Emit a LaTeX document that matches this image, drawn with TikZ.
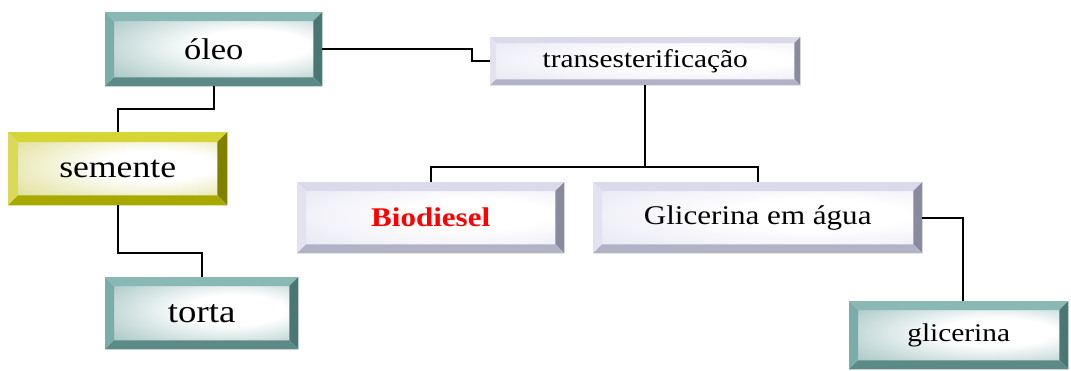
\documentclass[tikz,border=0pt]{standalone}
\usepackage{fontspec}
\setmainfont[FakeStretch=1.15]{Liberation Serif}
\usetikzlibrary{backgrounds,calc}

% bevel palettes
\definecolor{tealtop}{HTML}{8AB8B5}
\definecolor{tealleft}{HTML}{7AADA9}
\definecolor{tealright}{HTML}{4A7673}
\definecolor{tealbottom}{HTML}{5C8A87}
\definecolor{tealface}{HTML}{98BCBA}
\definecolor{yeltop}{HTML}{D5D535}
\definecolor{yelleft}{HTML}{DADA5A}
\definecolor{yelright}{HTML}{808000}
\definecolor{yelbottom}{HTML}{A8A800}
\definecolor{yelface}{HTML}{DADA86}
\definecolor{lavtop}{HTML}{DADAEC}
\definecolor{lavleft}{HTML}{E2E2F2}
\definecolor{lavright}{HTML}{8A8A9E}
\definecolor{lavbottom}{HTML}{B2B2C6}
\definecolor{lavface}{HTML}{E4E4F2}
\colorlet{facetint}{tealface}

\pgfdeclareradialshading[facetint]{bevelface}{\pgfpoint{12bp}{4bp}}{%
  color(0bp)=(white); color(14bp)=(white); color(46bp)=(facetint); color(70bp)=(facetint)}

% beveled frame behind a named node: #1 name, #2 bevel width,
% #3..#6 top/left/right/bottom colours, #7 face tint
\newcommand\bevelbox[7]{%
  \begin{pgfonlayer}{background}
    \colorlet{facetint}{#7}
    \path[shading=bevelface]
      ([shift={(#2,#2)}]#1.north west) rectangle ([shift={(-#2,-#2)}]#1.south east);
    \fill[#3] (#1.north west) -- (#1.north east) -- ([shift={(-#2,#2)}]#1.north east)
      -- ([shift={(#2,#2)}]#1.north west) -- cycle;
    \fill[#4] (#1.north west) -- ([shift={(#2,#2)}]#1.north west)
      -- ([shift={(#2,-#2)}]#1.south west) -- (#1.south west) -- cycle;
    \fill[#5] (#1.north east) -- (#1.south east) -- ([shift={(-#2,-#2)}]#1.south east)
      -- ([shift={(-#2,#2)}]#1.north east) -- cycle;
    \fill[#6] (#1.south west) -- ([shift={(#2,-#2)}]#1.south west)
      -- ([shift={(-#2,-#2)}]#1.south east) -- (#1.south east) -- cycle;
  \end{pgfonlayer}}

\tikzset{
  boxbase/.style={rectangle, inner sep=0pt, anchor=north west, text=black},
  conn/.style={line width=1.9pt, black},
}

\begin{document}
\begin{tikzpicture}[x=1pt, y=-1pt]
\useasboundingbox (0,0) rectangle (1071,370);

\node[boxbase, minimum width=217pt, minimum height=74pt, font=\fontsize{30}{36}\selectfont]
  (oleo) at (105,12) {óleo};
\node[boxbase, minimum width=310pt, minimum height=48pt, font=\fontsize{25.5}{30}\selectfont]
  (trans) at (490,37) {transesterificação};
\node[boxbase, minimum width=219pt, minimum height=73pt, font=\fontsize{31}{36}\selectfont]
  (semente) at (8,132) {semente};
\node[boxbase, minimum width=267pt, minimum height=71pt, text={rgb,255:red,255;green,0;blue,0},
  font=\fontsize{27}{32}\selectfont\bfseries]
  (bio) at (297,182) {Biodiesel};
\node[boxbase, minimum width=329pt, minimum height=71pt, font=\fontsize{27}{32}\selectfont]
  (glic) at (593,182) {Glicerina em água};
\node[boxbase, minimum width=193pt, minimum height=72pt, font=\fontsize{32}{38}\selectfont]
  (torta) at (105,277) {torta};
\node[boxbase, minimum width=219pt, minimum height=68pt, font=\fontsize{25.5}{30}\selectfont]
  (glicerina) at (849,301) {glicerina};

\bevelbox{oleo}{9}{tealtop}{tealleft}{tealright}{tealbottom}{tealface}
\bevelbox{trans}{6}{lavtop}{lavleft}{lavright}{lavbottom}{lavface}
\bevelbox{semente}{10}{yeltop}{yelleft}{yelright}{yelbottom}{yelface}
\bevelbox{bio}{9}{lavtop}{lavleft}{lavright}{lavbottom}{lavface}
\bevelbox{glic}{9}{lavtop}{lavleft}{lavright}{lavbottom}{lavface}
\bevelbox{torta}{9}{tealtop}{tealleft}{tealright}{tealbottom}{tealface}
\bevelbox{glicerina}{9}{tealtop}{tealleft}{tealright}{tealbottom}{tealface}

% connectors
\draw[conn] (oleo.east) -- ++(150,0) |- (trans.west);
\draw[conn] (oleo.south) -- ++(0,23) -| (semente.north);
\draw[conn] (semente.south) -- ++(0,48) -| (torta.north);
\draw[conn] (trans.south) -- ++(0,82) coordinate (split) -| (bio.north);
\draw[conn] (split) -| (glic.north);
\draw[conn] (glic.east) -| ([xshift=4pt]glicerina.north);
\end{tikzpicture}
\end{document}
